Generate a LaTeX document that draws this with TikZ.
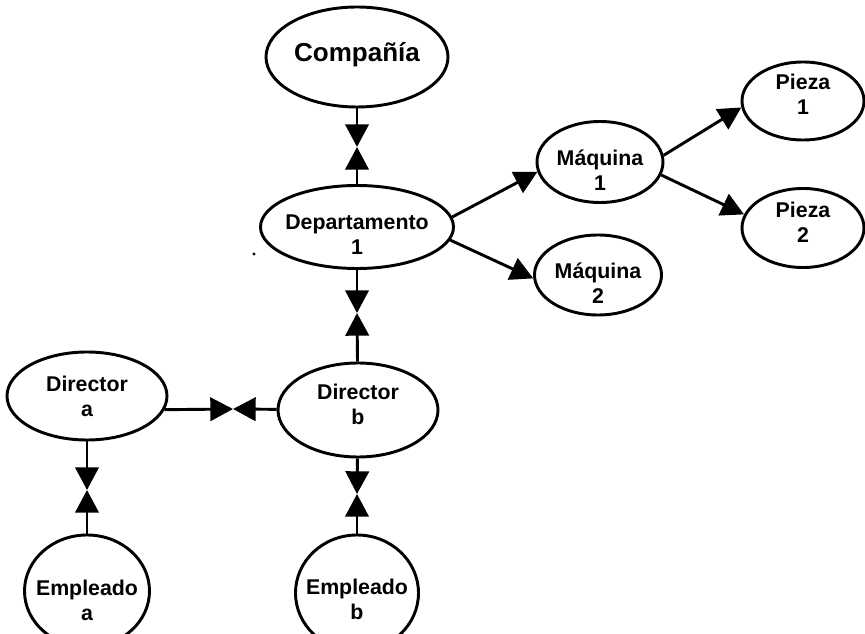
\documentclass[tikz,border=0pt]{standalone}
\usepackage{fontspec}
\setmainfont{Liberation Sans}
\usetikzlibrary{arrows.meta,shapes.geometric}

\begin{document}
\begin{tikzpicture}[x=0.75pt,y=-0.75pt,
  ent/.style={ellipse, draw, line width=2.2pt, inner sep=0pt},
  lbl/.style={align=center, inner sep=0pt,
    font=\fontsize{16}{18.8}\selectfont\bfseries},
  link/.style={line width=2.2pt, -{Triangle[length=17pt,width=17.5pt]}}]

\clip (0,0) rectangle (865,634);

% entities
\node[ent, minimum width=136.5pt, minimum height=75pt,
  label={[lbl, font=\fontsize{19.5}{22}\selectfont\bfseries, yshift=2pt]center:Compañía}]
  (comp) at (357,57) {};
\node[ent, minimum width=144.75pt, minimum height=62.25pt,
  label={[lbl, yshift=-6pt]center:Departamento\\1}] (dep) at (357,227) {};
\node[ent, minimum width=94.5pt, minimum height=60.75pt,
  label={[lbl, yshift=-6pt]center:Máquina\\1}] (maq1) at (600,162) {};
\node[ent, minimum width=95.25pt, minimum height=60pt,
  label={[lbl, yshift=-6pt]center:Máquina\\2}] (maq2) at (598,275) {};
\node[ent, minimum width=91.5pt, minimum height=58.5pt,
  label={[lbl, yshift=5pt]center:Pieza\\1}] (pz1) at (803,101) {};
\node[ent, minimum width=91.5pt, minimum height=59.25pt,
  label={[lbl, yshift=4pt]center:Pieza\\2}] (pz2) at (803,228) {};
\node[ent, minimum width=120pt, minimum height=66pt,
  label={[lbl]center:Director\\a}] (dira) at (87,396) {};
\node[ent, minimum width=120pt, minimum height=70.5pt,
  label={[lbl, yshift=4pt]center:Director\\b}] (dirb) at (358,410) {};
\node[ent, minimum width=93.75pt, minimum height=84pt,
  label={[lbl, yshift=-7pt]center:Empleado\\a}] (empa) at (87,591) {};
\node[ent, minimum width=92.25pt, minimum height=87pt,
  label={[lbl, yshift=-5pt]center:Empleado\\b}] (empb) at (357,593) {};

% meeting points of the paired arrows
\coordinate (m1) at (357,147);
\coordinate (m2) at (357,313);
\coordinate (m3) at (233,409);
\coordinate (m4) at (87,490);
\coordinate (m5) at (357,494);

\draw[link] (comp) -- (m1);
\draw[link] (dep) -- (m1);
\draw[link] (dep) -- (m2);
\draw[link] (dirb) -- (m2);
\draw[link] (dira.-10) -- (m3);
\draw[link] (dirb) -- (m3);
\draw[link] (dira) -- (m4);
\draw[link] (empa) -- (m4);
\draw[link] (dirb) -- (m5);
\draw[link] (empb) -- (m5);

% one-way links
\draw[link] (dep.6) -- (maq1.189);
\draw[link] (dep.-8) -- (maq2.183);
\draw[link] (maq1.6) -- (pz1.186);
\draw[link] (maq1.-12) -- (pz2.167);

% stray dot
\fill (254,254) circle (1.3pt);
\end{tikzpicture}
\end{document}
